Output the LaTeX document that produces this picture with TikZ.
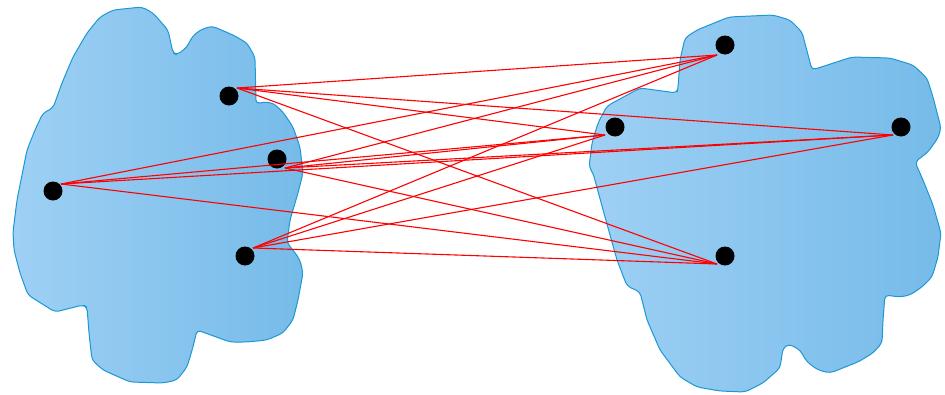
\documentclass[tikz,border=0pt]{standalone}
\usetikzlibrary{calc}
\definecolor{blobL}{RGB}{158,208,244}
\definecolor{blobR}{RGB}{118,187,233}
\definecolor{blobE}{RGB}{28,152,212}
\tikzset{
  blob/.style={draw=blobE, line width=1pt, left color=blobL, right color=blobR, line join=round, rounded corners=4pt},
  dot/.style={circle, fill=black, inner sep=0pt, minimum size=19pt},
  link/.style={draw=red, line width=1.1pt},
}
\begin{document}
\begin{tikzpicture}[x=1pt,y=-1pt]
\useasboundingbox (0,0) rectangle (945,394);
% left blob
\path[blob] (142,7) -- (153,13) -- (168,30) -- (173,53) -- (177,55) -- (187,47) -- (192,37) -- (200,30) -- (212,26) -- (233,35) -- (247,43) -- (255,57) -- (256,104) -- (263,102) -- (273,103) -- (283,112) -- (293,127) -- (300,147) -- (303,173) -- (298,193) -- (290,220) -- (287,243) -- (293,250) -- (300,260) -- (303,273) -- (298,300) -- (293,320) -- (283,333) -- (267,340) -- (247,342) -- (230,342) -- (197,330) -- (193,347) -- (187,367) -- (177,380) -- (163,383) -- (130,382) -- (103,370) -- (92,360) -- (89,333) -- (87,307) -- (83,305) -- (55,312) -- (28,295) -- (20,273) -- (14,250) -- (13,232) -- (17,200) -- (27,150) -- (35,130) -- (43,113) -- (53,108) -- (62,83) -- (73,57) -- (87,33) -- (100,17) -- (113,10) -- cycle;
% right blob
\path[blob] (729,17) -- (773,15) -- (790,20) -- (802,32) -- (812,70) -- (852,57) -- (890,58) -- (913,65) -- (927,78) -- (933,97) -- (941,128) -- (938,138) -- (928,152) -- (915,162) -- (923,180) -- (933,205) -- (941,233) -- (938,257) -- (932,277) -- (922,287) -- (910,295) -- (900,297) -- (885,295) -- (883,320) -- (882,343) -- (873,353) -- (858,362) -- (830,373) -- (818,370) -- (807,362) -- (800,350) -- (789,344) -- (783,348) -- (780,368) -- (763,383) -- (745,392) -- (720,391) -- (697,387) -- (680,377) -- (660,350) -- (647,320) -- (640,292) -- (627,286) -- (617,260) -- (605,217) -- (593,173) -- (589,167) -- (592,143) -- (598,123) -- (607,106) -- (640,88) -- (677,93) -- (678,88) -- (680,60) -- (685,38) -- (697,30) -- cycle;
% dots
\node[dot] (l1) at (229,96) {};
\node[dot] (l2) at (277,159) {};
\node[dot] (l3) at (53,191) {};
\node[dot] (l4) at (245,256) {};
\node[dot] (r1) at (725,45) {};
\node[dot] (r2) at (615,127) {};
\node[dot] (r3) at (901,127) {};
\node[dot] (r4) at (725,256) {};
% connector ports
\coordinate (pl1) at ($(l1)+(8,-8)$);
\coordinate (pl2) at ($(l2)+(8,9)$);
\coordinate (pl3) at ($(l3)+(8,-7)$);
\coordinate (pl4) at ($(l4)+(8,-8)$);
\coordinate (pr1) at ($(r1)+(-8,10)$);
\coordinate (pr2) at ($(r2)+(-10,8)$);
\coordinate (pr3) at ($(r3)+(-8,8)$);
\coordinate (pr4) at ($(r4)+(-8,8)$);
\foreach \a in {1,2,3,4}{
  \foreach \b in {1,2,3,4}{
    \draw[link] (pl\a) -- (pr\b);
  }
}
\end{tikzpicture}
\end{document}
